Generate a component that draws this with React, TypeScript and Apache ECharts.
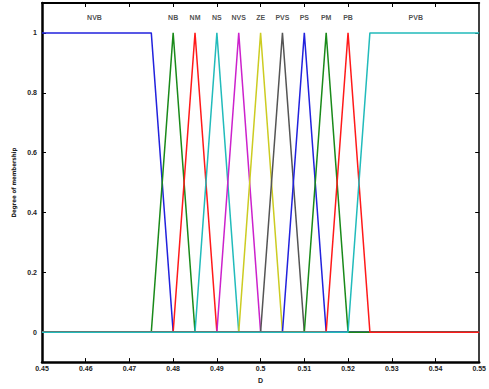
import React, { useEffect, useRef } from "react";
import * as echarts from "echarts";

const NVB = [[0.45, 1], [0.475, 1], [0.48, 0], [0.55, 0]];
const NB = [[0.45, 0], [0.475, 0], [0.48, 1], [0.485, 0], [0.55, 0]];
const NM = [[0.45, 0], [0.48, 0], [0.485, 1], [0.49, 0], [0.55, 0]];
const NS = [[0.45, 0], [0.485, 0], [0.49, 1], [0.495, 0], [0.55, 0]];
const NVS = [[0.45, 0], [0.49, 0], [0.495, 1], [0.5, 0], [0.55, 0]];
const ZE = [[0.45, 0], [0.495, 0], [0.5, 1], [0.505, 0], [0.55, 0]];
const PVS = [[0.45, 0], [0.5, 0], [0.505, 1], [0.51, 0], [0.55, 0]];
const PS = [[0.45, 0], [0.505, 0], [0.51, 1], [0.515, 0], [0.55, 0]];
const PM = [[0.45, 0], [0.51, 0], [0.515, 1], [0.52, 0], [0.55, 0]];
const PB = [[0.45, 0], [0.515, 0], [0.52, 1], [0.525, 0], [0.55, 0]];
const PVB = [[0.45, 0], [0.52, 0], [0.525, 1], [0.55, 1]];

const seriesNames = ["NVB", "NB", "NM", "NS", "NVS", "ZE", "PVS", "PS", "PM", "PB", "PVB"];
const seriesData = [NVB, NB, NM, NS, NVS, ZE, PVS, PS, PM, PB, PVB];
const seriesColors = ["#2222dd", "#1a8a1a", "#ff1a1a", "#22bbbb", "#cc22cc", "#cccc22", "#555555", "#2222dd", "#1a8a1a", "#ff1a1a", "#22bbbb"];

// label positions (x, y) for the set names
const labelX = [0.462, 0.48, 0.485, 0.49, 0.495, 0.5, 0.505, 0.51, 0.515, 0.52, 0.5355];
const labelY = 1.052;

const xTicks = [0.45, 0.46, 0.47, 0.48, 0.49, 0.5, 0.51, 0.52, 0.53, 0.54, 0.55];
const yTicks = [0, 0.2, 0.4, 0.6, 0.8, 1];

export default function App() {
  const ref = useRef<HTMLDivElement>(null);
  useEffect(() => {
    document.body.style.margin = "0";
    const chart = echarts.init(ref.current!, null, { renderer: "svg" });
    const labelFont = { fontSize: 7, fontWeight: "bold" as const, color: "#222", fontFamily: "Liberation Sans, Arial, sans-serif" };
    const series: any[] = seriesData.map((d, i) => ({
      type: "line",
      name: seriesNames[i],
      data: d,
      showSymbol: false,
      symbol: "none",
      lineStyle: { color: seriesColors[i], width: 1.5 },
      z: 2 + i,
    }));
    series.push({
      type: "scatter",
      symbolSize: 0,
      data: labelX.map((x, i) => ({ value: [x, labelY], name: seriesNames[i] })),
      label: {
        show: true,
        position: "inside",
        formatter: (p: any) => p.name,
        ...labelFont,
      },
      z: 20,
    });
    chart.setOption({
      animation: false,
      backgroundColor: "#fff",
      grid: { left: 42, right: 7, top: 3, bottom: 16 },
      xAxis: [
        {
          type: "value",
          min: 0.45,
          max: 0.55,
          interval: 0.01,
          name: "D",
          nameLocation: "middle",
          nameGap: 10,
          nameTextStyle: { ...labelFont, fontSize: 7 },
          axisLine: { show: true, onZero: false, lineStyle: { color: "#000", width: 2.5 } },
          axisTick: { show: true, inside: true, length: 4, lineStyle: { color: "#000", width: 1 }, customValues: xTicks.slice(1, -1) },
          axisLabel: { ...labelFont, margin: 3, customValues: xTicks, formatter: (v: number) => String(parseFloat(v.toFixed(2))) },
          splitLine: { show: false },
        },
        {
          type: "value",
          position: "top",
          min: 0.45,
          max: 0.55,
          interval: 0.01,
          axisLine: { show: true, onZero: false, lineStyle: { color: "#000", width: 2 } },
          axisTick: { show: true, inside: true, length: 4, lineStyle: { color: "#000", width: 1 }, customValues: xTicks.slice(1, -1) },
          axisLabel: { show: false },
          splitLine: { show: false },
        },
      ],
      yAxis: [
        {
          type: "value",
          min: -0.1,
          max: 1.1,
          name: "Degree of membership",
          nameLocation: "middle",
          nameGap: 26,
          nameTextStyle: { fontSize: 6, fontWeight: "bold", color: "#222", fontFamily: "DejaVu Sans Condensed, Liberation Sans Narrow, sans-serif" },
          axisLine: { show: true, onZero: false, lineStyle: { color: "#000", width: 2.5 } },
          axisTick: { show: true, inside: true, length: 4, lineStyle: { color: "#000", width: 1 }, customValues: yTicks },
          axisLabel: { ...labelFont, margin: 5, customValues: yTicks },
          splitLine: { show: false },
        },
        {
          type: "value",
          position: "right",
          min: -0.1,
          max: 1.1,
          axisLine: { show: true, onZero: false, lineStyle: { color: "#000", width: 1.5 } },
          axisTick: { show: true, inside: true, length: 4, lineStyle: { color: "#000", width: 1 }, customValues: yTicks },
          axisLabel: { show: false },
          splitLine: { show: false },
        },
      ],
      series,
    });
    return () => chart.dispose();
  }, []);
  return <div ref={ref} style={{ width: 489, height: 389 }} />;
}
